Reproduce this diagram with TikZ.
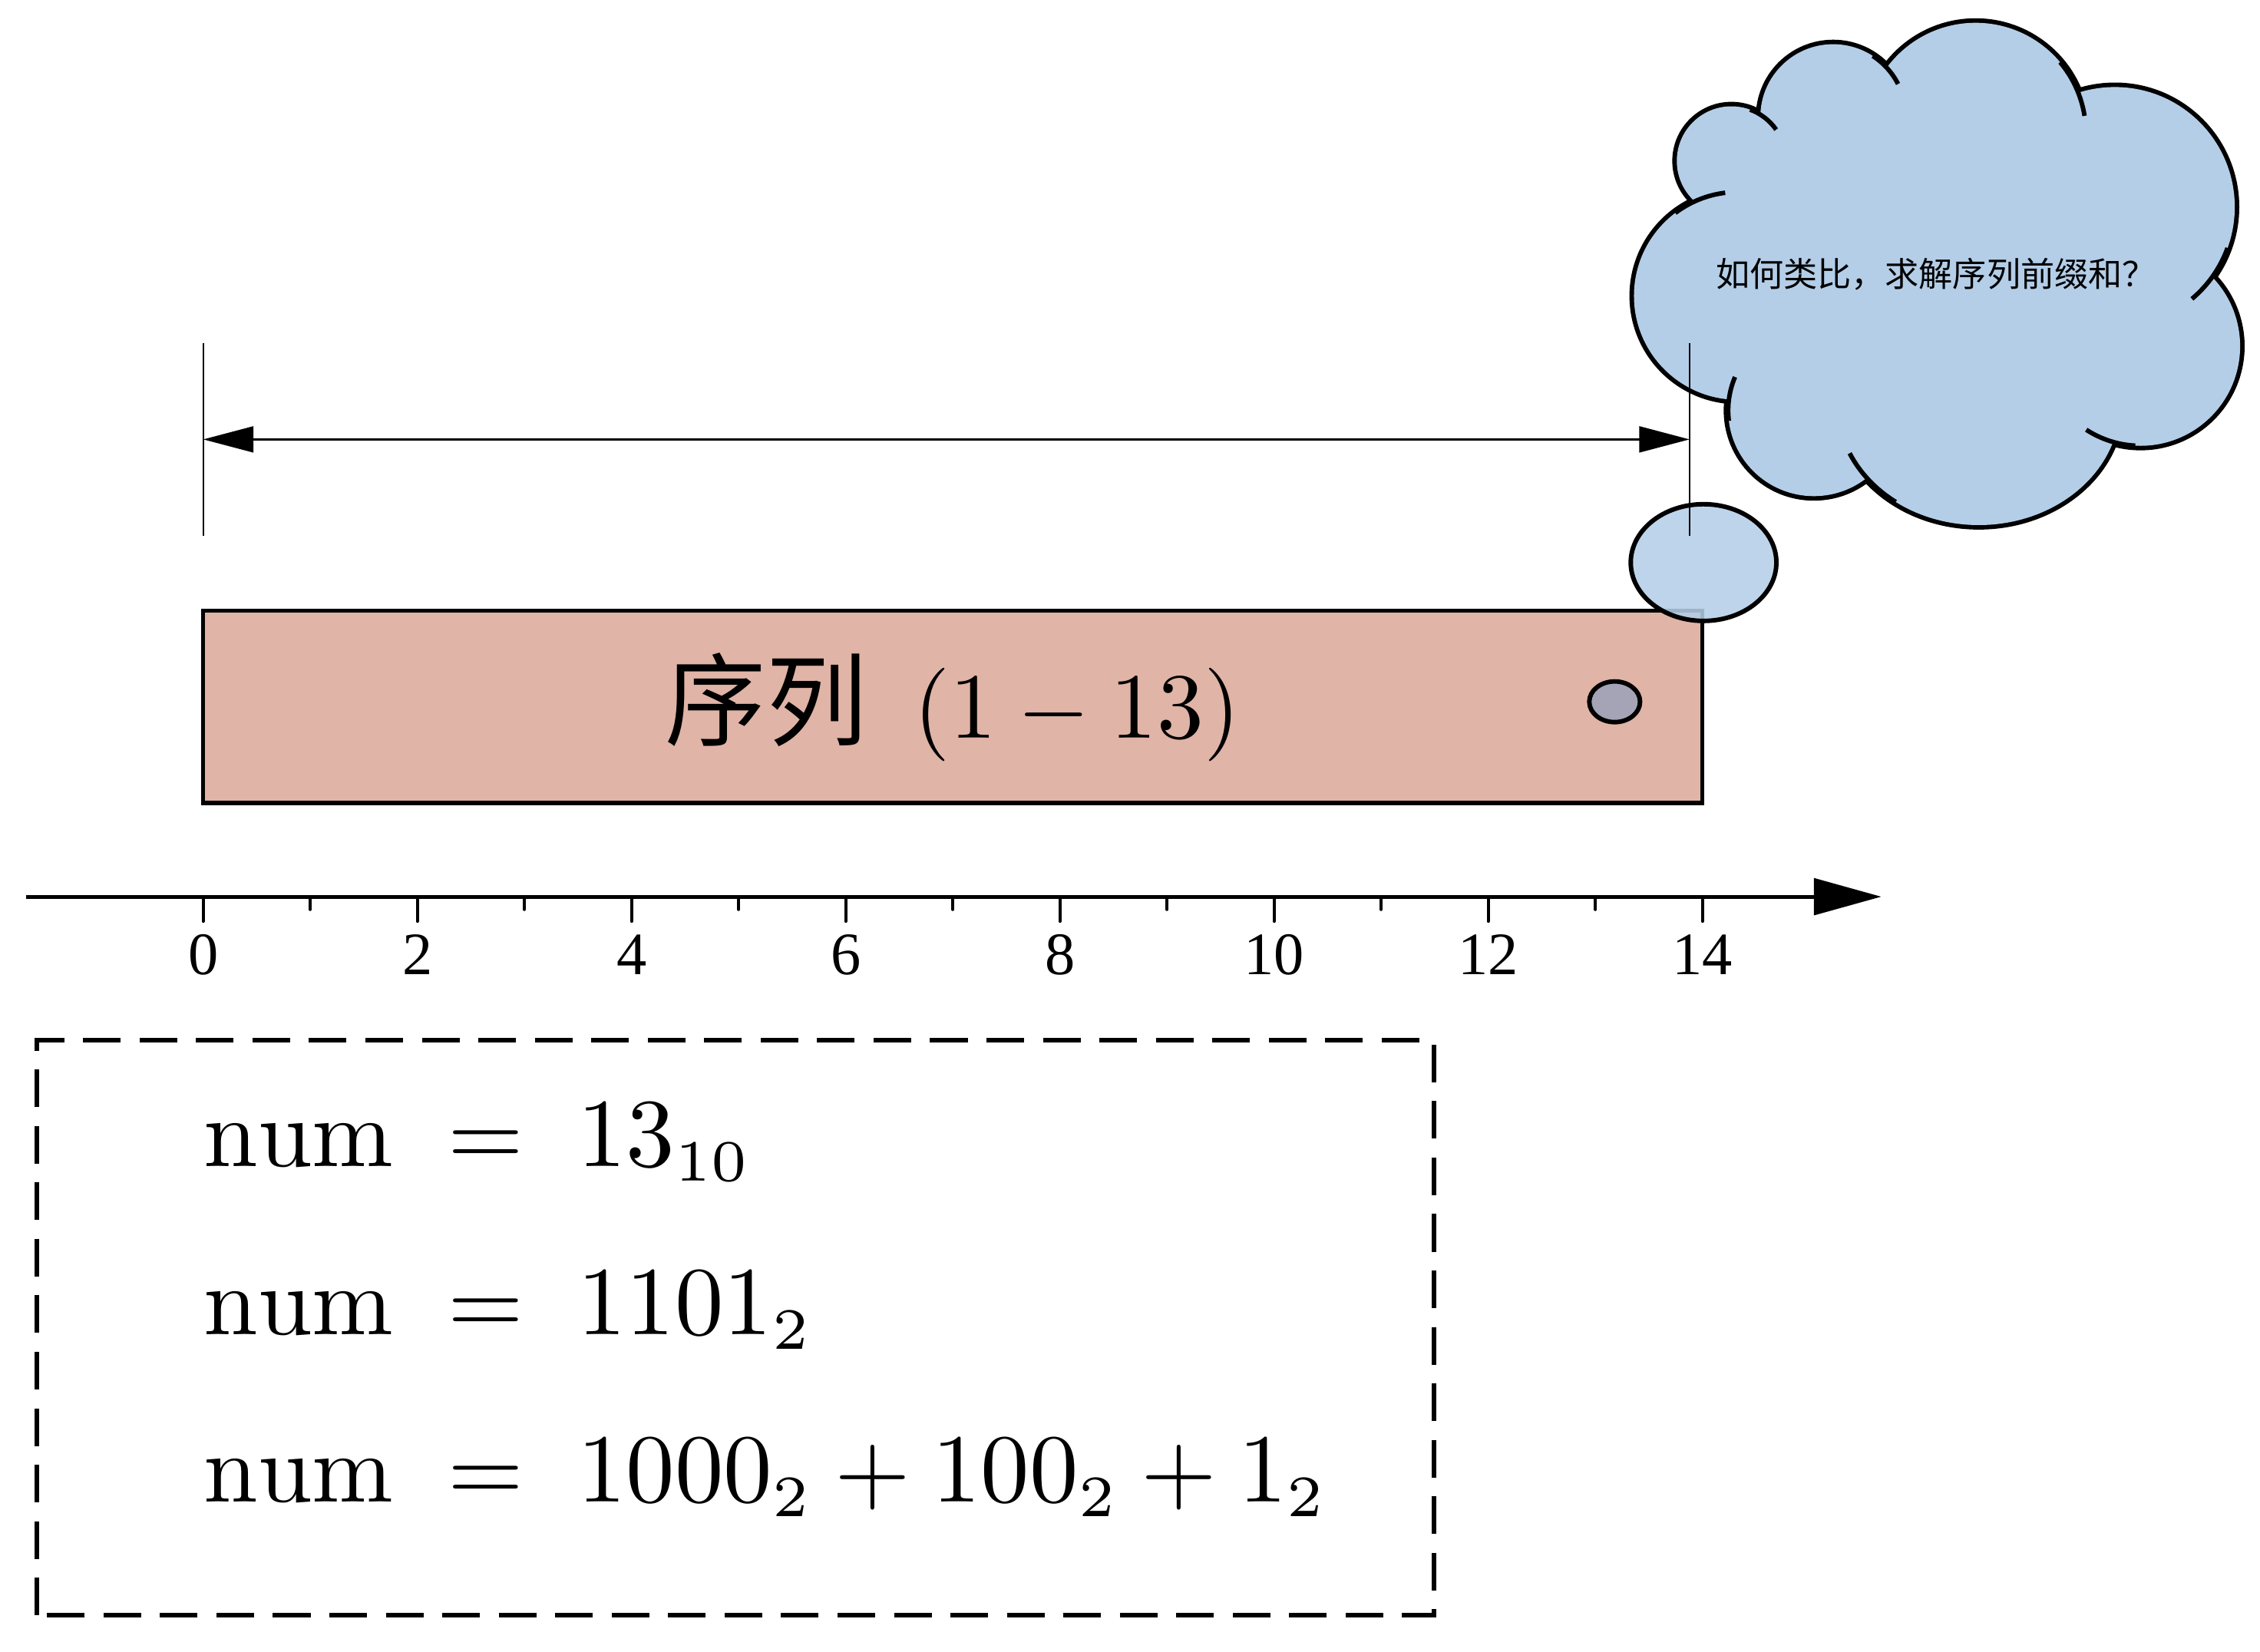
\documentclass[tikz,border=0pt]{standalone}
\usepackage{fontspec}
\newfontfamily\cjkfont{Noto Sans CJK SC}
\newfontfamily\axisfont{Liberation Serif}
\usetikzlibrary{arrows.meta,calc}
\DeclareMathSizes{10}{10}{6}{5}
\definecolor{cloudblue}{RGB}{180,206,232}
\definecolor{seqfill}{RGB}{224,180,166}
\definecolor{dotfill}{RGB}{164,164,182}
\tikzset{
  axisline/.style={line width=1pt,-{Triangle[length=6.3mm,width=3.4mm]}},
  tickline/.style={line width=0.8pt,line cap=round},
  ticklabel/.style={inner sep=0pt,font=\axisfont\fontsize{16}{18}\selectfont},
  seqbox/.style={draw,line width=1.1pt,fill=seqfill,minimum width=14cm,
    minimum height=1.795cm,inner sep=0pt,outer sep=0pt},
  dotmark/.style={draw,line width=1.2pt,fill=dotfill},
  extline/.style={line width=0.45pt},
  dimarrow/.style={line width=0.75pt,
    {Triangle[length=4.7mm,width=2.4mm]}-{Triangle[length=4.7mm,width=2.4mm]}},
  cloudline/.style={line width=1.2pt},
  bubble/.style={draw,line width=1.2pt,fill=cloudblue,fill opacity=0.87},
  dashbox/.style={line width=1.2pt,dash pattern=on 10pt off 5pt},
  eqtext/.style={anchor=base west,inner sep=0pt}
}

\begin{document}
\begin{tikzpicture}[>=latex]
\useasboundingbox (-1.897,-7.047) rectangle (19.206,8.373);

\coordinate (axL) at (-1.655,0);
\coordinate (axR) at (15.67,0);
\draw[axisline] (axL) -- (axR);
\foreach \i in {0,2,...,14}{
  \draw[tickline] (\i,0) -- (\i,-0.23);
  \node[ticklabel] (lab\i) at (\i,-0.54) {\i};
}
\foreach \i in {1,3,...,13}
  \draw[tickline] (\i,0) -- (\i,-0.12);

\node[seqbox] (seq) at (7,1.7725)
  {\scalebox{2.48}{{\cjkfont\fontsize{10.8}{12}\selectfont 序列}\enspace$(1-13)$}};
\coordinate (dot) at (13.18,1.82);
\draw[dotmark] (dot) ellipse[x radius=0.237,y radius=0.19];

\begin{scope}
\coordinate (p1) at (14.27,6.87);
\coordinate (p2) at (15.22,7.28);
\coordinate (p3) at (16.55,7.13);
\coordinate (p4) at (17.85,6.44);
\coordinate (p5) at (18.09,5.14);
\coordinate (p6) at (16.58,4.60);
\coordinate (p7) at (15.04,4.54);
\coordinate (p8) at (14.33,5.61);
\coordinate (pc) at (16.3,5.8);

\foreach \c/\rx/\ry in {p1/0.51/0.51,p2/0.68/0.68,p3/1.03/1.03,p4/1.12/1.12,
    p5/0.93/0.93,p6/1.32/1.13,p7/0.8/0.8,p8/0.97/0.97}
  \draw[line width=2.4pt] (\c) ellipse[x radius=\rx,y radius=\ry];
\foreach \c/\rx/\ry in {p1/0.51/0.51,p2/0.68/0.68,p3/1.03/1.03,p4/1.12/1.12,
    p5/0.93/0.93,p6/1.32/1.13,p7/0.8/0.8,p8/0.97/0.97,pc/2.2/1.6}
  \fill[cloudblue] (\c) ellipse[x radius=\rx,y radius=\ry];
\foreach \c/\rx/\ry/\s/\e in {p8/0.97/0.97/127/97,p1/0.51/0.51/70/35,
    p2/0.68/0.68/57/27,p3/1.03/1.03/40/9,p4/1.12/1.12/-20/-50,
    p5/0.93/0.93/-93/-123,p6/1.32/1.13/234/204,p7/0.8/0.8/187/157}
  \draw[cloudline] (\c) ++({\rx*cos(\s)},{\ry*sin(\s)})
    arc[start angle=\s,end angle=\e,x radius=\rx,y radius=\ry];

\node[font=\cjkfont\fontsize{9}{11}\selectfont] (question) at (16.18,5.81)
  {如何类比，求解序列前缀和？};
\end{scope}

\coordinate (bub) at (14.01,3.12);
\draw[bubble] (bub) ellipse[x radius=0.68,y radius=0.545];

\coordinate (extLtop) at (0,5.17);
\coordinate (extLbot) at (0,3.37);
\coordinate (extRtop) at (13.88,5.17);
\coordinate (extRbot) at (13.88,3.37);
\draw[extline] (extLtop) -- (extLbot);
\draw[extline] (extRtop) -- (extRbot);
\coordinate (dimL) at (0,4.27);
\coordinate (dimR) at (13.88,4.27);
\draw[dimarrow] (dimL) -- (dimR);

\draw[dashbox] (-1.55,-6.71) rectangle (11.49,-1.34);
\node[eqtext] (eq1) at (0,-2.52) {\scalebox{2.59}{$\mathrm{num}\;=\;13_{10}$}};
\node[eqtext] (eq2) at (0,-4.09) {\scalebox{2.59}{$\mathrm{num}\;=\;1101_2$}};
\node[eqtext] (eq3) at (0,-5.65) {\scalebox{2.59}{$\mathrm{num}\;=\;1000_2+100_2+1_2$}};

\end{tikzpicture}
\end{document}
